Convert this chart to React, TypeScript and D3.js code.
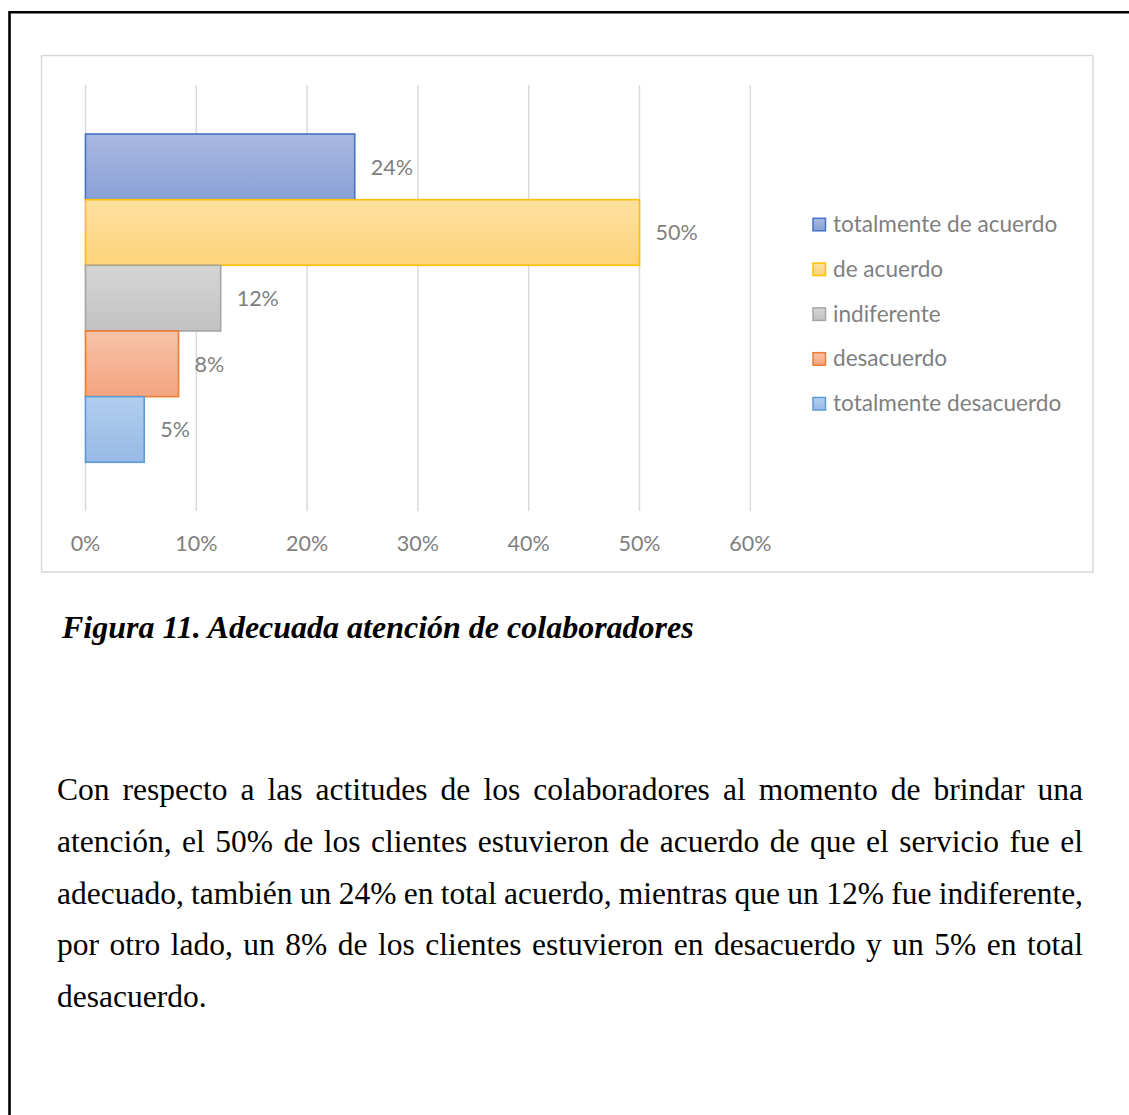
import React, { useEffect, useRef } from "react";
import * as d3 from "d3";

const categories = [
  "totalmente de acuerdo",
  "de acuerdo",
  "indiferente",
  "desacuerdo",
  "totalmente desacuerdo",
];
const values = [0.243, 0.5, 0.122, 0.084, 0.053];
const tickValues = [0, 0.1, 0.2, 0.3, 0.4, 0.5, 0.6];
const strokeColors = ["#4472c4", "#ffc000", "#a5a5a5", "#ed7d31", "#5b9bd5"];
const gradTop = ["#a9b8e2", "#fee1a0", "#d5d5d5", "#f8c3a9", "#b3cdee"];
const gradBottom = ["#8aa1d7", "#fed37a", "#c2c2c2", "#f4a47f", "#97b9e6"];

const caption = "Figura 11. Adecuada atención de colaboradores";
const paragraphLines = [
  "Con respecto a las actitudes de los colaboradores al momento de brindar una",
  "atención, el 50% de los clientes estuvieron de acuerdo de que el servicio fue el",
  "adecuado, también un 24% en total acuerdo, mientras que un 12% fue indiferente,",
  "por otro lado, un 8% de los clientes estuvieron en desacuerdo y un 5% en total",
  "desacuerdo.",
];

const W = 1129;
const H = 1115;
const chartFont = "Lato, 'Open Sans', sans-serif";
const serif = "'Liberation Serif', 'Times New Roman', serif";
const gray = "#7f7f7f";

export default function App() {
  const paraRef = useRef<SVGGElement | null>(null);

  const x = d3.scaleLinear().domain([0, 0.6]).range([85.5, 750.3]);
  const y = d3.scaleBand<string>().domain(categories).range([134, 462.3]).padding(0);
  const fmt = d3.format(".0%");

  const textLeft = 57;
  const textRight = 1083;
  const baseline0 = 800;
  const lineGap = 51.8;

  useEffect(() => {
    if (!paraRef.current) return;
    const g = d3.select(paraRef.current);
    g.selectAll<SVGTextElement, unknown>("text.just").each(function () {
      const el = this as SVGTextElement;
      el.setAttribute("word-spacing", "0");
      const natural = el.getComputedTextLength();
      const txt = el.textContent || "";
      const spaces = (txt.match(/ /g) || []).length;
      if (spaces > 0) {
        const extra = (textRight - textLeft - natural) / spaces;
        el.setAttribute("word-spacing", String(extra));
      }
    });
  }, []);

  return (
    <svg
      width={W}
      height={H}
      style={{ position: "absolute", left: 0, top: 0, background: "#fff" }}
    >
      <defs>
        {categories.map((c, i) => (
          <linearGradient key={c} id={`grad${i}`} x1="0" y1="0" x2="0" y2="1">
            <stop offset="0%" stopColor={gradTop[i]} />
            <stop offset="100%" stopColor={gradBottom[i]} />
          </linearGradient>
        ))}
      </defs>
      <rect x={0} y={0} width={W} height={H} fill="#fff" />
      {/* outer page frame */}
      <line x1={9.5} y1={12.3} x2={W} y2={12.3} stroke="#000" strokeWidth={2.6} />
      <line x1={9.5} y1={11} x2={9.5} y2={H} stroke="#000" strokeWidth={2.6} />

      {/* chart frame */}
      <rect x={41.5} y={55.5} width={1051.5} height={516.5} fill="#fff" stroke="#d9d9d9" strokeWidth={1.5} />

      {/* gridlines */}
      {tickValues.map((t) => (
        <line key={`g${t}`} x1={x(t)} x2={x(t)} y1={85} y2={511} stroke="#d9d9d9" strokeWidth={1.5} />
      ))}
      {/* tick labels */}
      {tickValues.map((t) => (
        <text
          key={`t${t}`}
          x={x(t)}
          y={543}
          textAnchor="middle"
          dominantBaseline="central"
          fontFamily={chartFont}
          fontSize={21.5}
          fill={gray}
        >
          {fmt(t)}
        </text>
      ))}

      {/* bars */}
      {categories.map((c, i) => (
        <rect
          key={c}
          x={x(0)}
          y={y(c)!}
          width={x(values[i]) - x(0)}
          height={y.bandwidth()}
          fill={`url(#grad${i})`}
          stroke={strokeColors[i]}
          strokeWidth={1.6}
        />
      ))}
      {/* value labels */}
      {categories.map((c, i) => (
        <text
          key={`l${c}`}
          x={x(values[i]) + 16}
          y={y(c)! + y.bandwidth() / 2}
          dominantBaseline="central"
          fontFamily={chartFont}
          fontSize={21.5}
          fill={gray}
        >
          {fmt(values[i])}
        </text>
      ))}

      {/* legend */}
      {categories.map((c, i) => (
        <g key={`lg${c}`} transform={`translate(812.5, ${224.5 + i * 44.8})`}>
          <rect x={0.5} y={-6.2} width={12.5} height={12.5} fill={`url(#grad${i})`} stroke={strokeColors[i]} strokeWidth={1.5} />
          <text x={20.5} y={-1} dominantBaseline="central" fontFamily={chartFont} fontSize={22.6} fill={gray}>
            {c}
          </text>
        </g>
      ))}

      {/* caption */}
      <text x={62} y={638} fontFamily={serif} fontSize={32} fontWeight="bold" fontStyle="italic" fill="#000">
        {caption}
      </text>

      {/* paragraph */}
      <g ref={paraRef}>
        {paragraphLines.map((ln, i) => (
          <text
            key={`p${i}`}
            className={i < paragraphLines.length - 1 ? "just" : "last"}
            x={textLeft}
            y={baseline0 + i * lineGap}
            fontFamily={serif}
            fontSize={31.5}
            fill="#000"
            xmlSpace="preserve"
          >
            {ln}
          </text>
        ))}
      </g>
    </svg>
  );
}
